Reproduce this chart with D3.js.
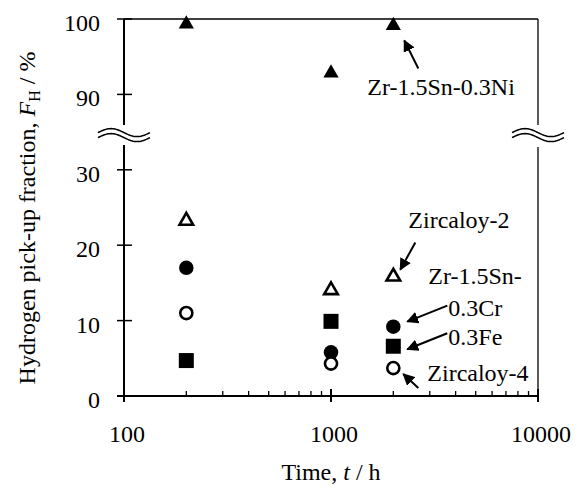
<!DOCTYPE html>
<html>
<head>
<meta charset="utf-8">
<script src="https://cdn.jsdelivr.net/npm/d3@7"></script>
<style>
  body { margin: 0; background: #fff; }
</style>
</head>
<body>
<div id="chart"></div>
<script>
// data
var times = [200, 1000, 2000];
var zircaloy2 = [23.5, 14.3, 16.1];      // open triangle
var zrSnCr = [17.0, 5.8, 9.2];           // filled circle
var zircaloy4 = [11.0, 4.3, 3.7];        // open circle
var zrSnFe = [4.7, 9.9, 6.6];            // filled square
var zrSnNi = [99.6, 93.1, 99.4];         // filled triangle
var yTicks = [0, 10, 20, 30, 90, 100];
var xTicks = [100, 1000, 10000];

var width = 578, height = 491;
var plotL = 124, plotR = 538, plotT = 19, plotB = 396;
var FONT = "'Liberation Serif'";

var svg = d3.select("#chart").append("svg")
    .attr("width", width)
    .attr("height", height)
    .style("font-family", FONT);

var x = d3.scaleLog().domain([100, 10000]).range([plotL, plotR]);

// broken axis: 0-30 then 90-100, one gap of 10 units between
var yLin = d3.scaleLinear().domain([0, 50]).range([plotB, plotT]);
var y = d3.scaleLinear()
    .domain([0, 30, 90, 100])
    .range([yLin(0), yLin(30), yLin(40), yLin(50)]);
var yBreak = yLin(34.6);

function label(sel) {
    return sel.style("font-family", FONT).attr("font-size", 24).attr("fill", "#000");
}

svg.append("defs").append("marker")
    .attr("id", "arrow")
    .attr("viewBox", "0 0 10 10")
    .attr("refX", 9).attr("refY", 5)
    .attr("markerWidth", 6).attr("markerHeight", 6)
    .attr("markerUnits", "strokeWidth")
    .attr("orient", "auto")
    .append("path")
    .attr("d", "M0,0 L10,5 L0,10 z")
    .attr("fill", "#000");

// frame: top and right thin
svg.append("line").attr("x1", plotL).attr("x2", plotR).attr("y1", plotT).attr("y2", plotT)
    .attr("stroke", "#000").attr("stroke-width", 1.3);
svg.append("line").attr("x1", plotR).attr("x2", plotR).attr("y1", plotT).attr("y2", yBreak - 10)
    .attr("stroke", "#000").attr("stroke-width", 1.3);
svg.append("line").attr("x1", plotR).attr("x2", plotR).attr("y1", yBreak + 12).attr("y2", plotB)
    .attr("stroke", "#000").attr("stroke-width", 1.3);

// left axis line with gap
svg.append("line").attr("x1", plotL).attr("x2", plotL).attr("y1", plotT).attr("y2", yBreak - 10)
    .attr("stroke", "#000").attr("stroke-width", 2);
svg.append("line").attr("x1", plotL).attr("x2", plotL).attr("y1", yBreak + 10).attr("y2", plotB)
    .attr("stroke", "#000").attr("stroke-width", 2);

// bottom axis line
svg.append("line").attr("x1", plotL - 7).attr("x2", plotR).attr("y1", plotB).attr("y2", plotB)
    .attr("stroke", "#000").attr("stroke-width", 2);

// y ticks (crossing)
svg.selectAll(".ytick").data(yTicks).enter().append("line")
    .attr("x1", plotL - 7).attr("x2", plotL + 8)
    .attr("y1", function (d) { return y(d); })
    .attr("y2", function (d) { return y(d); })
    .attr("stroke", "#000").attr("stroke-width", 1.5);

svg.selectAll(".ylab").data(yTicks).enter().append("text")
    .call(label)
    .attr("x", plotL - 24)
    .attr("y", function (d) { return y(d) + 12; })
    .attr("text-anchor", "end")
    .text(function (d) { return d; });

// x ticks
var minor = [];
[100, 1000].forEach(function (b) { for (var k = 2; k <= 9; k++) minor.push(b * k); });
svg.selectAll(".xminor").data(minor).enter().append("line")
    .attr("x1", function (d) { return x(d); })
    .attr("x2", function (d) { return x(d); })
    .attr("y1", plotB - 5).attr("y2", plotB)
    .attr("stroke", "#000").attr("stroke-width", 1.3);
svg.selectAll(".xmajor").data(xTicks).enter().append("line")
    .attr("x1", function (d) { return x(d); })
    .attr("x2", function (d) { return x(d); })
    .attr("y1", plotB - 7).attr("y2", plotB + 6)
    .attr("stroke", "#000").attr("stroke-width", 2);
svg.selectAll(".xlab").data(xTicks).enter().append("text")
    .call(label)
    .attr("x", function (d) { return x(d) + 3; })
    .attr("y", plotB + 46)
    .attr("text-anchor", "middle")
    .text(function (d) { return d; });

// break symbols
function wave(cx, cy) {
    var pts = [];
    for (var i = 0; i <= 40; i++) {
        var t = i / 40;
        pts.push([cx - 26 + 52 * t, cy - 4 * Math.sin(2 * Math.PI * t)]);
    }
    return d3.line()(pts);
}
[plotL, plotR].forEach(function (cx) {
    svg.append("path").attr("d", wave(cx, yBreak - 2.5))
        .attr("fill", "none").attr("stroke", "#000").attr("stroke-width", 1.5);
    svg.append("path").attr("d", wave(cx, yBreak + 2.5))
        .attr("fill", "none").attr("stroke", "#000").attr("stroke-width", 1.5);
});

// series
var series = [
    { vals: zircaloy2, sym: d3.symbolTriangle, size: 80, open: true },
    { vals: zrSnCr, sym: d3.symbolCircle, size: 165, open: false },
    { vals: zircaloy4, sym: d3.symbolCircle, size: 115, open: true },
    { vals: zrSnFe, sym: d3.symbolSquare, size: 225, open: false },
    { vals: zrSnNi, sym: d3.symbolTriangle, size: 100, open: false }
];
series.forEach(function (s) {
    svg.selectAll(null).data(s.vals).enter().append("path")
        .attr("d", d3.symbol().type(s.sym).size(s.size))
        .attr("transform", function (d, i) {
            var dy = s.sym === d3.symbolTriangle ? 2 : 0;
            return "translate(" + x(times[i]) + "," + (y(d) + dy) + ")";
        })
        .attr("fill", s.open ? "#fff" : "#000")
        .attr("stroke", "#000")
        .attr("stroke-width", s.open ? 2.6 : 0);
});

// annotations, placed relative to the 2000 h points
var t2 = times[2];
var notes = [
    { v: zrSnNi[2], head: [11, 17], tail: [25, 45], lines: [["Zr-1.5Sn-0.3Ni", -26, 71]] },
    { v: zircaloy2[2], head: [7, -5], tail: [22, -32], lines: [["Zircaloy-2", 15, -47]] },
    { v: zrSnCr[2], head: [14, -5], tail: [54, -21], lines: [["Zr-1.5Sn-", 35, -43], ["0.3Cr", 55, -11]] },
    { v: zrSnFe[2], head: [14, 3], tail: [54, -13], lines: [["0.3Fe", 55, -1]] },
    { v: zircaloy4[2], head: [10, 6], tail: [25, 20], lines: [["Zircaloy-4", 34, 13]] }
];
notes.forEach(function (n) {
    var px = x(t2), py = y(n.v);
    svg.append("line")
        .attr("x1", px + n.tail[0]).attr("y1", py + n.tail[1])
        .attr("x2", px + n.head[0]).attr("y2", py + n.head[1])
        .attr("stroke", "#000").attr("stroke-width", 2)
        .attr("marker-end", "url(#arrow)");
    n.lines.forEach(function (l) {
        svg.append("text")
            .call(label)
            .attr("x", px + l[1]).attr("y", py + l[2])
            .text(l[0]);
    });
});

// axis titles
var xt = svg.append("text")
    .call(label)
    .attr("x", (plotL + plotR) / 2).attr("y", 480)
    .attr("text-anchor", "middle");
xt.append("tspan").text("Time, ");
xt.append("tspan").attr("font-style", "italic").text("t");
xt.append("tspan").text(" / h");

var yt = svg.append("text")
    .call(label)
    .attr("transform", "translate(35," + 218 + ") rotate(-90)")
    .attr("text-anchor", "middle");
yt.append("tspan").text("Hydrogen pick-up fraction, ");
yt.append("tspan").attr("font-style", "italic").text("F");
yt.append("tspan").attr("font-size", 16).attr("dy", 5).text("H");
yt.append("tspan").attr("dy", -5).text(" / %");
</script>
</body>
</html>
